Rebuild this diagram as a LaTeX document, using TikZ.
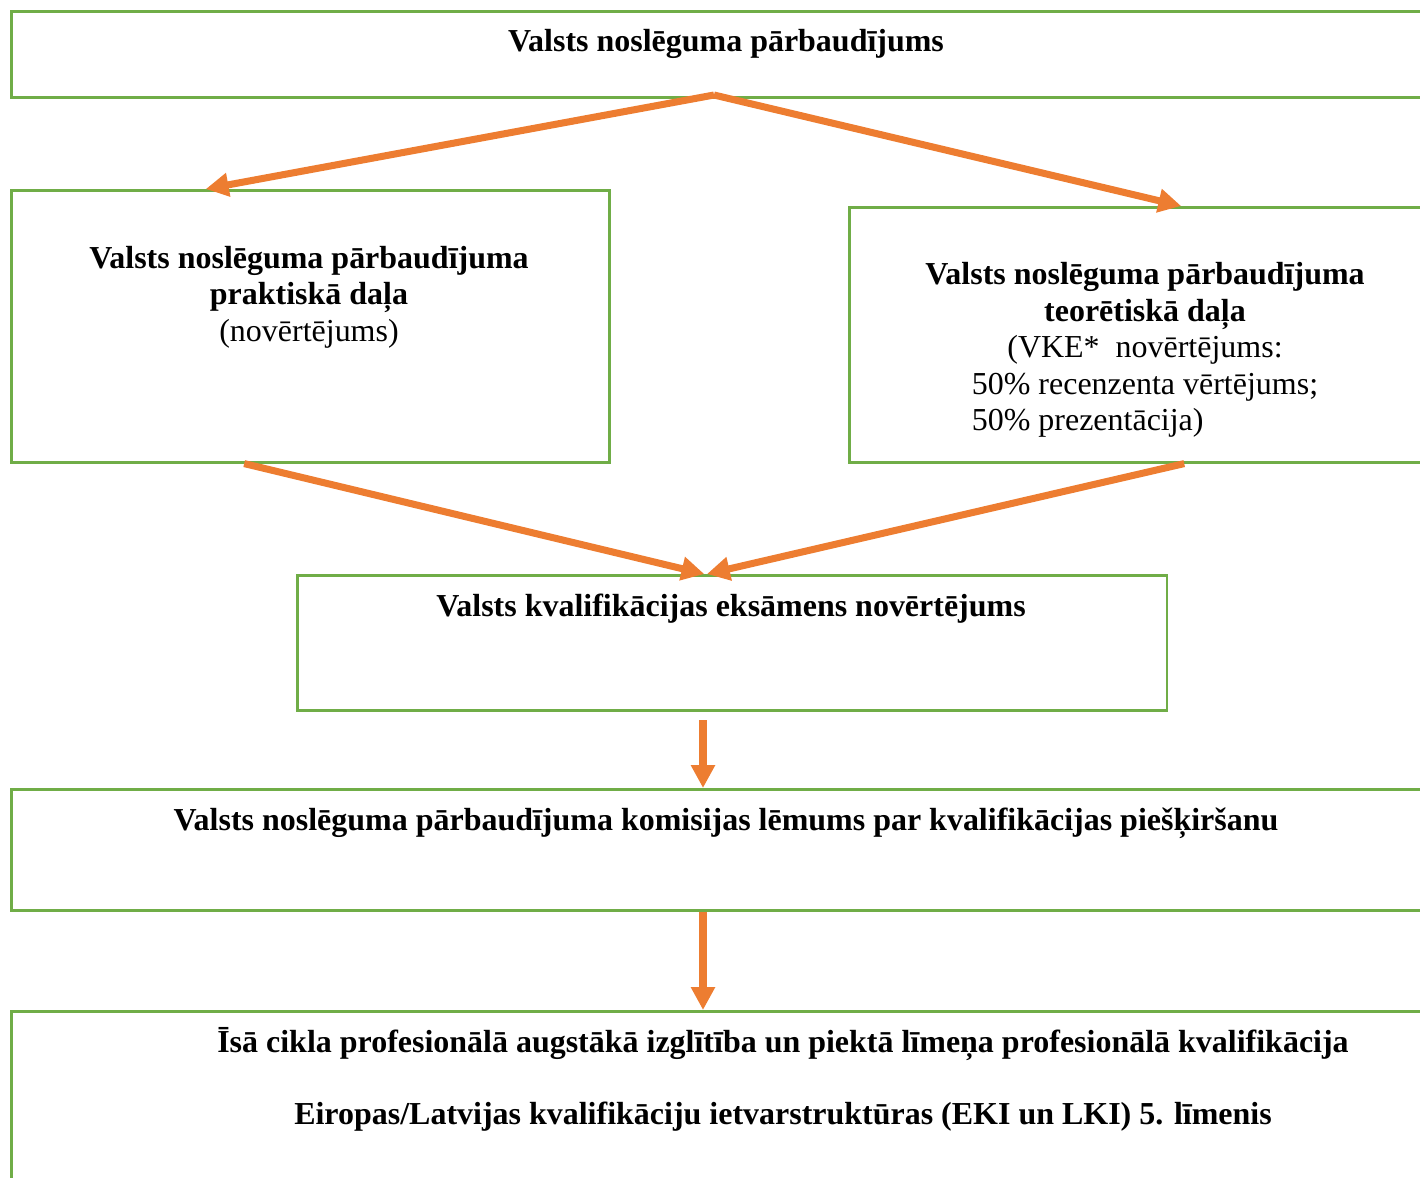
\documentclass[tikz,border=0pt]{standalone}
\usepackage{fontspec}
\setmainfont{Liberation Serif}
\usetikzlibrary{arrows.meta,calc}
\definecolor{boxgreen}{HTML}{70AD47}
\definecolor{floworange}{HTML}{ED7D31}
\begin{document}
\begin{tikzpicture}[x=0.02cm,y=-0.02cm,
  box/.style={draw=boxgreen,line width=1.5pt,inner sep=0pt,anchor=north west},
  txt/.style={font=\fontsize{18.2}{20.8}\selectfont,align=center,inner sep=0pt},
  flow/.style={draw=floworange,line width=4pt,-{Triangle[length=13pt,width=13pt]}}]
\useasboundingbox (0,0) rectangle (1420,1177);
\clip (0,0) rectangle (1420,1177);
\node [box,minimum width=28.6cm,minimum height=1.72cm] (top) at (10,10) {};
\node [box,minimum width=11.96cm,minimum height=5.44cm] (prakt) at (10,189) {};
\node [box,minimum width=12cm,minimum height=5.1cm] (teor) at (848,206) {};
\node [box,minimum width=17.4cm,minimum height=2.7cm] (vke) at (296,574) {};
\node [box,minimum width=28.6cm,minimum height=2.42cm] (lemums) at (10,788) {};
\node [box,minimum width=28.6cm,minimum height=4cm] (kval) at (10,1010) {};
\node [txt] (toptxt) at (726,44) {\textbf{Valsts noslēguma pārbaudījums}};
\node [txt] (prakttxt) at (309,297) {\textbf{Valsts noslēguma pārbaudījuma}\\\textbf{praktiskā daļa}\\(novērtējums)};
\node [txt,anchor=north] (teortxt) at (1145,262) {\textbf{Valsts noslēguma pārbaudījuma}\\\textbf{teorētiskā daļa}\\(VKE*\ \ novērtējums:\\\begin{tabular}[t]{@{}l@{}}50\% recenzenta vērtējums;\\50\% prezentācija)\end{tabular}};
\node [txt] (vketxt) at (731,609) {\textbf{Valsts kvalifikācijas eksāmens novērtējums}};
\node [txt] (lemumstxt) at (726,823) {\textbf{Valsts noslēguma pārbaudījuma komisijas lēmums par kvalifikācijas piešķiršanu}};
\node [txt] (kvaltxt1) at (783,1044) {\textbf{Īsā cikla profesionālā augstākā izglītība un piektā līmeņa profesionālā kvalifikācija}};
\node [txt] (kvaltxt2) at (783,1117) {\textbf{Eiropas/Latvijas kvalifikāciju ietvarstruktūras (EKI un LKI) 5. līmenis}};
\coordinate (fork) at (714,95);
\coordinate (gap) at (703,720);
\draw [flow] (fork) -- ($(prakt.north west)!0.326!(prakt.north east)$);
\draw [flow] (fork) -- ($(teor.north west)!0.553!(teor.north east)$);
\draw [flow] ($(prakt.south west)!0.39!(prakt.south east)$) -- ($(vke.north west)!0.468!(vke.north east)$);
\draw [flow] ($(teor.south west)!0.558!(teor.south east)$) -- ($(vke.north west)!0.471!(vke.north east)$);
\draw [flow] (gap) -- (gap |- lemums.north);
\draw [flow] (gap |- lemums.south) -- (gap |- kval.north);
\end{tikzpicture}
\end{document}
